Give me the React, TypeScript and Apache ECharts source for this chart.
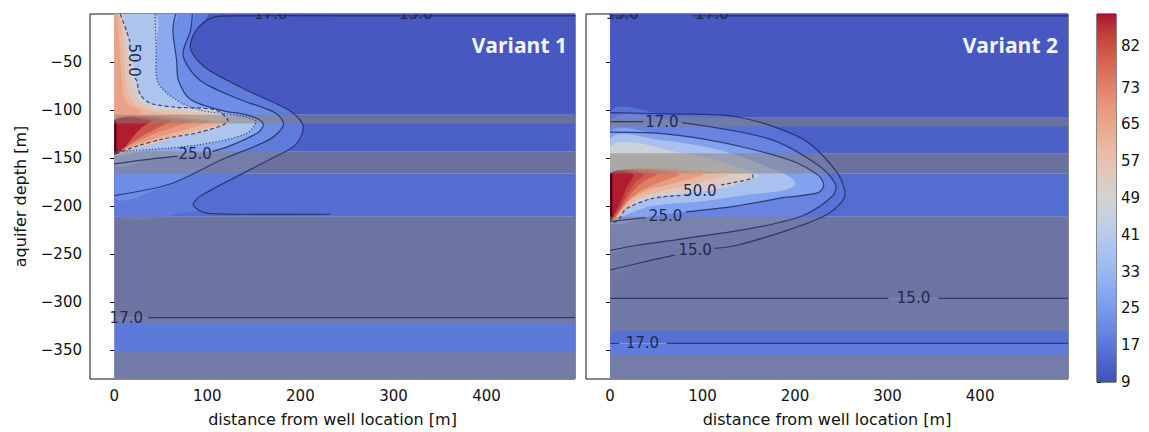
import React, { useEffect, useRef } from "react";
import * as echarts from "echarts";

type Pt = [number, number];

// ---------------- data ----------------
const xTicks = [0, 100, 200, 300, 400];
const depthTicks = [-350, -300, -250, -200, -150, -100, -50];
const colorbarTicks = [9, 17, 25, 33, 41, 49, 57, 65, 73, 82];
const tempRange: [number, number] = [9, 89];
const xRange: [number, number] = [-26, 495];
const depthRange: [number, number] = [-380, 0];

// Variant 1 ------------------------------------------------------
// background temperature per layer: [top, bottom, temperature]
const v1Layers: [number, number, number][] = [
  [0, -105, 11], [-105, -143, 12.5], [-143, -166, 13], [-166, -211, 15], [-211, -316, 14], [-316, -380, 17.5],
];
const v1Aquitards: [number, number][] = [[-105, -114], [-143, -166], [-211, -322], [-352, -380]];
const v1Well: [number, number] = [-111, -146];
const v1Isotherms: { t: number; pts: Pt[] }[] = [
  { t: 18, pts: [[0, 0], [100, 0], [88, -17], [82, -36], [98, -56], [146, -81], [189, -101], [203, -117], [195, -136], [168, -151], [130, -170], [92, -190], [85, -199], [90, -205], [0, -205]] },
  { t: 22, pts: [[0, 0], [84, 0], [82, -17], [74, -43], [92, -69], [135, -89], [173, -103], [182, -115], [168, -130], [117, -151], [60, -177], [0, -189]] },
  { t: 29, pts: [[0, 0], [66, 0], [63, -17], [67, -48], [69, -69], [82, -89], [114, -100], [146, -106], [160, -114], [155, -123], [125, -137], [85, -146], [39, -151], [0, -156]] },
  { t: 38, pts: [[0, 0], [44, 0], [45, -38], [47, -71], [66, -89], [92, -100], [135, -106], [152, -112], [141, -125], [92, -136], [39, -141], [0, -143]] },
  { t: 48, pts: [[0, 0], [6.5, 0], [13, -17], [19, -43], [24, -69], [28, -84], [39, -93], [66, -97], [109, -100], [122, -112], [92, -123], [53, -130], [23, -138], [0, -146]] },
  { t: 55, pts: [[0, 0], [9, 0], [12, -20], [16, -50], [20, -75], [26, -88], [40, -97], [80, -101], [112, -106], [0, -110]] },
  { t: 61, pts: [[0, 0], [6, 0], [10, -38], [13, -74], [20, -92], [40, -101], [80, -106], [0, -111]] },
  { t: 66, pts: [[0, 0], [3, 0], [6, -40], [9, -75], [13, -92], [30, -102], [0, -106]] },
  { t: 55, pts: [[0, -110], [124, -111], [126, -113], [100, -121], [62, -130], [30, -138], [10, -143], [0, -147]] },
  { t: 62, pts: [[0, -110], [117, -111], [121, -113], [95, -120], [60, -128], [30, -136], [10, -142], [0, -146]] },
  { t: 68, pts: [[0, -110], [102, -111], [88, -117], [55, -126], [26, -135], [9, -142], [0, -146]] },
  { t: 74, pts: [[0, -110], [85, -111], [70, -116], [45, -124], [22, -134], [8, -142], [0, -146]] },
  { t: 81, pts: [[0, -110], [62, -111], [50, -117], [32, -126], [16, -136], [6, -143], [0, -146]] },
  { t: 88, pts: [[0, -111], [40, -111], [30, -118], [20, -128], [12, -138], [5, -144], [0, -146]] },
];
const v1Contours: { dash: string; pts: Pt[] }[] = [
  { dash: "solid", pts: [[495, -2], [300, -2], [130, -2], [105, -4], [88, -17], [82, -36], [98, -56], [146, -81], [189, -101], [203, -117], [195, -136], [168, -151], [130, -170], [92, -190], [85, -199], [98, -207], [146, -208.5], [232, -208.5]] },
  { dash: "solid", pts: [[84, 0], [82, -17], [74, -43], [92, -69], [135, -89], [173, -103], [182, -115], [168, -130], [117, -151], [60, -177], [0, -189]] },
  { dash: "solid", pts: [[66, 0], [63, -17], [67, -48], [69, -69], [82, -89], [114, -100], [146, -106], [160, -114], [155, -123], [125, -137], [106, -143]] },
  { dash: "solid", pts: [[68, -148], [39, -151], [0, -156]] },
  { dash: "dotted", pts: [[44, 0], [45, -38], [47, -71], [66, -89], [92, -100], [135, -106], [152, -112], [141, -125], [92, -136], [39, -141], [0, -143]] },
  { dash: "dashed", pts: [[6.5, 0], [13, -17], [17, -29]] },
  { dash: "dashed", pts: [[22, -67], [24, -69], [28, -84], [39, -93], [66, -97], [109, -100], [122, -112], [92, -123], [53, -130], [23, -138], [0, -146]] },
  { dash: "solid", pts: [[36, -316], [495, -316]] },
];
const v1Labels: { text: string; x: number; d: number; rot: number }[] = [
  { text: "50.0", x: 21.5, d: -48, rot: -90 },
  { text: "25.0", x: 87, d: -146, rot: 0 },
  { text: "17.0", x: 13, d: -316, rot: 0 },
  { text: "17.0", x: 168, d: 0, rot: 0 },
  { text: "15.0", x: 324, d: 0, rot: 0 },
];

// Variant 2 ------------------------------------------------------
const v2Layers: [number, number, number][] = [
  [0, -108, 11], [-108, -145, 12.5], [-145, -166, 13], [-166, -211, 15], [-211, -296, 14], [-296, -343, 15.5], [-343, -380, 18],
];
const v2Aquitards: [number, number][] = [[-108, -117], [-145, -166], [-211, -330], [-355, -380]];
const v2Well: [number, number] = [-166, -215];
const v2Isotherms: { t: number; pts: Pt[] }[] = [
  { t: 16, pts: [[0, -102.6], [60, -104], [137, -107], [208, -130], [244, -163], [254, -185], [251, -195], [232, -210], [189, -226], [136, -241], [93, -246], [46, -256], [0, -266.5]] },
  { t: 20, pts: [[0, -112], [75, -112], [172, -130], [226, -158], [244, -178], [240, -190], [208, -210], [154, -223], [82, -233.5], [28, -241], [0, -246]] },
  { t: 27, pts: [[0, -123], [50, -124], [100, -130], [150, -140], [197, -153], [225, -168], [231, -178], [225, -186], [189, -191], [136, -200], [82, -206], [42, -211], [0, -216]] },
  { t: 37, pts: [[0, -130], [60, -132], [120, -142], [165, -157], [195, -170], [200, -178], [185, -184], [150, -188], [100, -195], [45, -200], [15, -210], [0, -214]] },
  { t: 47, pts: [[0, -138], [80, -145], [140, -160], [160, -168], [154, -172], [117, -182], [82, -187], [46, -192], [17, -203], [10, -213], [0, -216]] },
  { t: 53, pts: [[0, -166.5], [154, -166.5], [154, -170], [117, -181], [82, -185], [46, -190], [17, -200], [8, -212], [0, -216]] },
  { t: 60, pts: [[0, -166.5], [128, -166.5], [95, -176], [58, -184], [30, -193], [12, -208], [0, -215]] },
  { t: 67, pts: [[0, -166.5], [100, -166.5], [70, -176], [40, -184], [20, -195], [8, -210], [0, -215]] },
  { t: 74, pts: [[0, -166.5], [75, -166.5], [52, -176], [30, -186], [15, -200], [6, -211], [0, -215]] },
  { t: 80, pts: [[0, -166.5], [50, -166.5], [35, -175], [22, -188], [12, -202], [5, -212], [0, -215]] },
  { t: 84, pts: [[0, -166.5], [36, -166.5], [26, -177], [16, -192], [8, -206], [0, -214]] },
  { t: 88, pts: [[0, -166.5], [25, -166.5], [18, -180], [10, -198], [0, -214]] },
];
const v2Contours: { dash: string; pts: Pt[] }[] = [
  { dash: "solid", pts: [[30, -2], [0, -2]] },
  { dash: "solid", pts: [[90, -2], [495, -2]] },
  { dash: "solid", pts: [[0, -102.6], [60, -104], [137, -107], [208, -130], [244, -163], [254, -185], [251, -195], [232, -210], [189, -226], [136, -241], [113, -244]] },
  { dash: "solid", pts: [[70, -251], [46, -256], [0, -266.5]] },
  { dash: "solid", pts: [[0, -112], [36, -112]] },
  { dash: "solid", pts: [[78, -113], [172, -130], [226, -158], [244, -178], [240, -190], [208, -210], [154, -223], [82, -233.5], [28, -241], [0, -246]] },
  { dash: "solid", pts: [[0, -123], [50, -124], [100, -130], [150, -140], [197, -153], [225, -168], [231, -178], [225, -186], [189, -191], [136, -200], [82, -206]] },
  { dash: "solid", pts: [[38, -212], [0, -216]] },
  { dash: "dashed", pts: [[154, -167], [154, -171], [120, -178]] },
  { dash: "dashed", pts: [[76, -189], [46, -192], [17, -203], [10, -213], [4, -217]] },
  { dash: "solid", pts: [[0, -296], [301, -296]] },
  { dash: "solid", pts: [[355, -296], [495, -296]] },
  { dash: "solid", pts: [[0, -343], [10, -343]] },
  { dash: "solid", pts: [[61, -343], [495, -343]] },
];
const v2Labels: { text: string; x: number; d: number; rot: number }[] = [
  { text: "17.0", x: 56, d: -112, rot: 0 },
  { text: "50.0", x: 97, d: -184, rot: 0 },
  { text: "25.0", x: 60, d: -210, rot: 0 },
  { text: "15.0", x: 92, d: -246, rot: 0 },
  { text: "15.0", x: 328, d: -296, rot: 0 },
  { text: "17.0", x: 35, d: -343, rot: 0 },
  { text: "15.0", x: 13, d: 0, rot: 0 },
  { text: "17.0", x: 110, d: 0, rot: 0 },
];

// ---------------- styling ----------------
const COOLWARM: number[][] = [
  [59, 76, 192], [68, 90, 204], [77, 104, 215], [87, 117, 225], [98, 130, 234], [108, 142, 241], [119, 154, 247], [130, 165, 251],
  [141, 176, 254], [152, 185, 255], [163, 194, 255], [174, 201, 253], [184, 208, 249], [194, 213, 244], [204, 217, 238], [213, 219, 230],
  [221, 221, 221], [229, 216, 209], [236, 211, 197], [241, 204, 184], [245, 196, 173], [247, 187, 160], [247, 177, 148], [247, 166, 135],
  [244, 154, 123], [241, 141, 111], [236, 127, 99], [229, 112, 88], [222, 96, 77], [213, 80, 66], [203, 62, 56], [192, 40, 47], [180, 4, 38],
];
const MUTE = 0.1;
const muteRGB = (c: number[]) => {
  const g = [110, 110, 118];
  const r = c.map((v, i) => Math.round(v * (1 - MUTE) + g[i] * MUTE));
  return `rgb(${r[0]},${r[1]},${r[2]})`;
};
const cmap = (t: number) => {
  const n = COOLWARM.length - 1;
  let s = (t - tempRange[0]) / (tempRange[1] - tempRange[0]);
  s = Math.max(0, Math.min(1, s)) * n;
  const i = Math.min(Math.floor(s), n - 1);
  const f = s - i;
  const a = COOLWARM[i], b = COOLWARM[i + 1];
  return muteRGB(a.map((v, k) => v + (b[k] - v) * f));
};
const LINE = "rgba(30,40,96,0.82)";
const LABEL = "#1d2858";
const BAND = "rgba(138,128,120,0.5)";
const FONT = "DejaVu Sans";

type Item =
  | { k: "layer"; top: number; bottom: number; t: number }
  | { k: "fill"; pts: Pt[]; t: number }
  | { k: "well"; top: number; bottom: number }
  | { k: "band"; top: number; bottom: number }
  | { k: "line"; pts: Pt[]; dash: string }
  | { k: "label"; x: number; d: number; text: string; rot: number };

function buildItems(layers: [number, number, number][], isos: { t: number; pts: Pt[] }[], well: [number, number],
  aquitards: [number, number][], contours: { dash: string; pts: Pt[] }[], labels: { text: string; x: number; d: number; rot: number }[]): Item[] {
  const out: Item[] = [];
  layers.forEach(([top, bottom, t]) => out.push({ k: "layer", top, bottom, t }));
  isos.forEach((f) => out.push({ k: "fill", pts: f.pts, t: f.t }));
  out.push({ k: "well", top: well[0], bottom: well[1] });
  aquitards.forEach(([top, bottom]) => out.push({ k: "band", top, bottom }));
  contours.forEach((c) => out.push({ k: "line", pts: c.pts, dash: c.dash }));
  labels.forEach((l) => out.push({ k: "label", x: l.x, d: l.d, text: l.text, rot: l.rot }));
  return out;
}

const makeRender = (items: Item[]) => (params: any, api: any) => {
  const it = items[params.dataIndex];
  const c = (p: Pt) => api.coord(p);
  const tl = c([0, depthRange[1]]);
  const br = c([xRange[1], depthRange[0]]);
  const constraint = [[tl[0], tl[1]], [br[0], br[1]]];
  const rect = (x0: number, top: number, x1: number, bottom: number) => {
    const a = c([x0, top]);
    const b = c([x1, bottom]);
    return { x: a[0], y: a[1], width: b[0] - a[0], height: b[1] - a[1] };
  };
  switch (it.k) {
    case "layer":
      return { type: "rect", shape: rect(0, it.top, xRange[1], it.bottom), style: { fill: cmap(it.t) } };
    case "fill":
      return { type: "polygon", shape: { points: it.pts.map(c), smooth: 0.35, smoothConstraint: constraint }, style: { fill: cmap(it.t) } };
    case "well":
      return { type: "rect", shape: rect(0, it.top, 2.5, it.bottom), style: { fill: "#4e0712" } };
    case "band":
      return { type: "rect", shape: rect(0, it.top, xRange[1], it.bottom), style: { fill: BAND } };
    case "line":
      return {
        type: "polyline",
        shape: { points: it.pts.map(c), smooth: 0.3 },
        style: {
          fill: "none", stroke: LINE, lineWidth: 1.2,
          lineDash: it.dash === "dashed" ? [4, 2.5] : it.dash === "dotted" ? [1.2, 2] : null,
        },
      };
    case "label": {
      const p = c([it.x, it.d]);
      return {
        type: "text", x: p[0], y: p[1], rotation: (it.rot * Math.PI) / 180,
        style: { text: it.text, fill: LABEL, fontSize: 15, fontFamily: FONT, align: "center", verticalAlign: "middle" },
      };
    }
  }
  return null;
};

const minus = (v: number) => String(v).replace("-", "\u2212");

export default function App() {
  const ref = useRef<HTMLDivElement>(null);
  useEffect(() => {
    if (!ref.current) return;
    const chart = echarts.init(ref.current, null, { renderer: "svg" });
    const items1 = buildItems(v1Layers, v1Isotherms, v1Well, v1Aquitards, v1Contours, v1Labels);
    const items2 = buildItems(v2Layers, v2Isotherms, v2Well, v2Aquitards, v2Contours, v2Labels);
    const n = COOLWARM.length - 1;
    const stops = COOLWARM.map((col, i) => ({ offset: 1 - i / n, color: muteRGB(col) })).reverse();

    const xAxisBase = (gridIndex: number) => ({
      gridIndex, type: "value", min: xRange[0], max: xRange[1],
      axisLine: { show: false },
      splitLine: { show: false },
      axisTick: { customValues: xTicks, length: 4, lineStyle: { color: "#000" } },
      axisLabel: { customValues: xTicks, fontSize: 15, color: "#111", fontFamily: FONT, margin: 9 },
      name: "distance from well location [m]", nameLocation: "middle", nameGap: 32,
      nameTextStyle: { fontSize: 16, color: "#111", fontFamily: FONT },
    });
    const yAxisBase = (gridIndex: number, labels: boolean) => ({
      gridIndex, type: "value", min: depthRange[0], max: depthRange[1],
      axisLine: { show: false },
      splitLine: { show: false },
      axisTick: { customValues: depthTicks, length: 4, lineStyle: { color: "#000" } },
      axisLabel: { show: labels, customValues: depthTicks, fontSize: 15, color: "#111", fontFamily: FONT, margin: 8, formatter: minus },
      name: labels ? "aquifer depth [m]" : "", nameLocation: "middle", nameGap: 62,
      nameTextStyle: { fontSize: 16, color: "#111", fontFamily: FONT },
    });

    chart.setOption({
      animation: false,
      backgroundColor: "#fff",
      textStyle: { fontFamily: FONT },
      grid: [
        { left: 90, top: 14, width: 485, height: 367, show: true, borderColor: "#111", borderWidth: 1, backgroundColor: "#fff" },
        { left: 586, top: 14, width: 482, height: 367, show: true, borderColor: "#111", borderWidth: 1, backgroundColor: "#fff" },
        { left: 1097, top: 14, width: 19, height: 368, show: true, borderColor: "#111", borderWidth: 1 },
      ],
      xAxis: [xAxisBase(0), xAxisBase(1), { gridIndex: 2, type: "value", min: 0, max: 1, show: false }],
      yAxis: [
        yAxisBase(0, true),
        yAxisBase(1, false),
        {
          gridIndex: 2, type: "value", min: tempRange[0], max: tempRange[1], position: "right",
          axisLine: { show: false }, splitLine: { show: false },
          axisTick: { customValues: colorbarTicks, length: 4, lineStyle: { color: "#000" } },
          axisLabel: { customValues: colorbarTicks, fontSize: 15, color: "#111", fontFamily: FONT, margin: 5 },
        },
      ],
      series: [
        { type: "custom", xAxisIndex: 0, yAxisIndex: 0, clip: true, silent: true, data: items1.map((_, i) => [0, 0, i]), renderItem: makeRender(items1) },
        { type: "custom", xAxisIndex: 1, yAxisIndex: 1, clip: true, silent: true, data: items2.map((_, i) => [0, 0, i]), renderItem: makeRender(items2) },
        {
          type: "custom", xAxisIndex: 2, yAxisIndex: 2, silent: true, data: [[0, tempRange[0]]],
          renderItem: (_p: any, api: any) => {
            const a = api.coord([0, tempRange[1]]);
            const b = api.coord([1, tempRange[0]]);
            return {
              type: "rect", shape: { x: a[0], y: a[1], width: b[0] - a[0], height: b[1] - a[1] },
              style: { fill: new echarts.graphic.LinearGradient(0, 0, 0, 1, stops) },
            };
          },
        },
      ],
      graphic: [
        { type: "text", x: 567, y: 45, z: 100, style: { text: "Variant 1", align: "right", verticalAlign: "middle", fill: "#f4f6ff", font: 'bold 21px "Open Sans"' } },
        { type: "text", x: 1058, y: 45, z: 100, style: { text: "Variant 2", align: "right", verticalAlign: "middle", fill: "#f4f6ff", font: 'bold 21px "Open Sans"' } },
      ],
    });
    return () => chart.dispose();
  }, []);
  return <div ref={ref} style={{ position: "fixed", left: 0, top: 0, width: 1149, height: 432 }} />;
}
